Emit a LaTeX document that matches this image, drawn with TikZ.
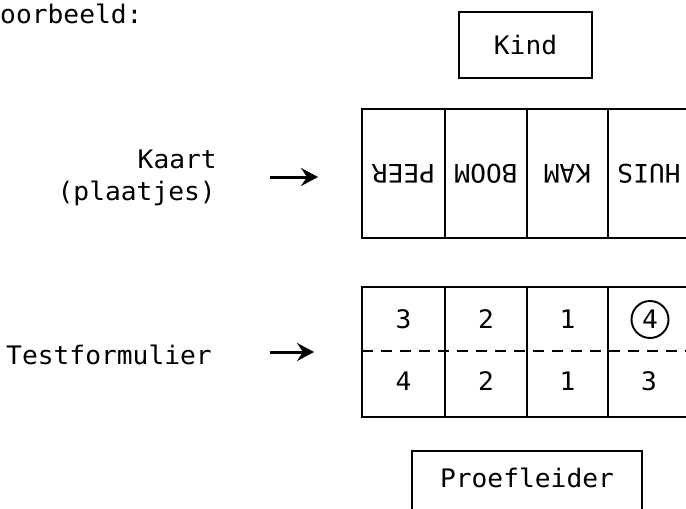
\documentclass[tikz,border=0pt]{standalone}
\usepackage{fontspec}
\newfontfamily\monofam[FakeStretch=1.03]{DejaVu Sans Mono}
\usetikzlibrary{arrows.meta}
\begin{document}
\begin{tikzpicture}[x=1pt,y=-1pt,
  every node/.style={font=\monofam\fontsize{25.5}{30}\selectfont, inner sep=0pt},
  box/.style={draw, line width=1.9pt},
  cell/.style={draw, line width=2.2pt},
  dig/.style={anchor=center},
  arr/.style={line width=3pt, -{Stealth[length=17pt,width=18pt,inset=6pt]}},
  dline/.style={line width=1.7pt, dash pattern=on 11pt off 8pt},
]
\useasboundingbox (0,0) rectangle (686,509);

% heading
\node[anchor=base west] (vb) at (0,23) {oorbeeld:};

% Kind box
\node[box, minimum width=133pt, minimum height=66pt] (kind) at (525.5,45) {Kind};

% left labels
\node[anchor=base east] (kaart) at (217,168) {Kaart};
\node[anchor=base east] (plaatjes) at (216,200) {(plaatjes)};
\node[anchor=base west] (testf) at (6,364) {Testformulier};

% arrows
\coordinate (a1s) at (270,177);
\coordinate (a1e) at (318,177);
\coordinate (a2s) at (270,352);
\coordinate (a2e) at (314,352);
\draw[arr] (a1s) -- (a1e);
\draw[arr] (a2s) -- (a2e);

% card (upside-down words)
\node[cell, minimum width=83pt, minimum height=129pt, rotate=180] (k1) at (403.5,173.5) {PEER};
\node[cell, minimum width=82pt, minimum height=129pt, rotate=180] (k2) at (486,173.5) {BOOM};
\node[cell, minimum width=81pt, minimum height=129pt, rotate=180] (k3) at (567.5,173.5) {KAM};
\node[cell, minimum width=82pt, minimum height=129pt, rotate=180] (k4) at (649,173.5) {HUIS};

% test form
\node[cell, minimum width=83pt, minimum height=130pt] (t1) at (403.5,352) {};
\node[cell, minimum width=82pt, minimum height=130pt] (t2) at (486,352) {};
\node[cell, minimum width=81pt, minimum height=130pt] (t3) at (567.5,352) {};
\node[cell, minimum width=82pt, minimum height=130pt] (t4) at (649,352) {};
\coordinate (dl) at (362,351);
\coordinate (dr) at (690,351);
\draw[dline] (dl) -- (dr);

\node[dig] (u1) at (403.5,319.5) {3};
\node[dig] (u2) at (486,319.5) {2};
\node[dig] (u3) at (567.5,319.5) {1};
\node[dig, draw, circle, line width=1.9pt, minimum size=37pt] (u4) at (650,319.5) {4};

\node[dig] (l1) at (403.5,381) {4};
\node[dig] (l2) at (486,381) {2};
\node[dig] (l3) at (567.5,381) {1};
\node[dig] (l4) at (649,381) {3};

% Proefleider box
\node[box, anchor=north, minimum width=230pt, text height=19pt, text depth=40pt, inner ysep=18pt] (proef) at (527,450) {Proefleider};
\end{tikzpicture}
\end{document}
